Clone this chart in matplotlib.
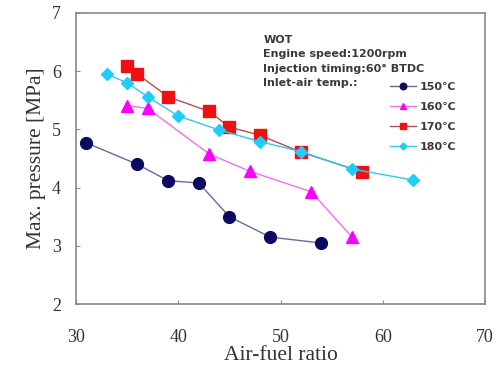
import matplotlib
matplotlib.use("Agg")
import matplotlib.pyplot as plt

# air-fuel ratio / max pressure for each inlet-air temperature
afr_150 = [31, 36, 39, 42, 45, 49, 54]
p_150 = [4.77, 4.40, 4.12, 4.08, 3.50, 3.15, 3.05]

afr_160 = [35, 37, 43, 47, 53, 57]
p_160 = [5.41, 5.36, 4.58, 4.28, 3.93, 3.15]

afr_170 = [35, 36, 39, 43, 45, 48, 52, 58]
p_170 = [6.09, 5.95, 5.56, 5.31, 5.04, 4.90, 4.61, 4.27]

afr_180 = [33, 35, 37, 40, 44, 48, 52, 57, 63]
p_180 = [5.95, 5.80, 5.56, 5.23, 4.99, 4.79, 4.62, 4.32, 4.13]

labels = ["150\u2103", "160\u2103", "170\u2103", "180\u2103"]
xticks = [30, 40, 50, 60, 70]
yticks = [2, 3, 4, 5, 6, 7]

fig = plt.figure(figsize=(5.01, 3.70), dpi=100)
ax = fig.add_axes([0.152, 0.178, 0.816, 0.787])

ax.plot(afr_150, p_150, color="#6a6a9a", lw=1, marker="o", ms=8.5,
        mfc="#0a0a60", mec="#0a0a60", label=labels[0])
ax.plot(afr_160, p_160, color="#f070f0", lw=1, marker="^", ms=8.5,
        mfc="#ff00ff", mec="#ff00ff", label=labels[1])
ax.plot(afr_170, p_170, color="#b05050", lw=1, marker="s", ms=8,
        mfc="#ee1111", mec="#ee1111", label=labels[2])
ax.plot(afr_180, p_180, color="#30c8f0", lw=1, marker="D", ms=6.5,
        mfc="#22ccf8", mec="#22ccf8", label=labels[3])

ax.set_xlim(30, 70)
ax.set_ylim(2, 7)
ax.set_xticks(xticks)
ax.set_yticks(yticks)
ax.tick_params(direction="in", length=3, width=0.8, color="#888888")
ax.tick_params(axis="x", pad=18)
ax.tick_params(axis="y", pad=11)
for lab in ax.get_xticklabels() + ax.get_yticklabels():
    lab.set_fontfamily("Liberation Serif")
    lab.set_fontsize(13)
    lab.set_color("#333333")
for s in ax.spines.values():
    s.set_color("#888888")
    s.set_linewidth(1.2)

ax.set_xlabel("Air-fuel ratio", family="Liberation Serif", fontsize=15.5,
              color="#333333", labelpad=0)
ax.set_ylabel("Max. pressure [MPa]", family="Liberation Serif", fontsize=15.5,
              color="#333333", labelpad=4)

txt = "WOT\nEngine speed:1200rpm\nInjection timing:60\u00b0 BTDC\nInlet-air temp.:"
ax.text(0.458, 0.925, txt, transform=ax.transAxes, fontsize=8,
        fontweight="bold", color="#3a3a3a", va="top", ha="left",
        linespacing=1.55)

leg = ax.legend(loc="upper left", bbox_to_anchor=(0.768, 0.762), frameon=False,
                fontsize=8, markerscale=0.55, handlelength=2.3,
                labelspacing=0.9, handletextpad=0.4, borderpad=0,
                borderaxespad=0)
for t in leg.get_texts():
    t.set_fontweight("bold")
    t.set_color("#3a3a3a")

fig.savefig("out.png", dpi=100)
